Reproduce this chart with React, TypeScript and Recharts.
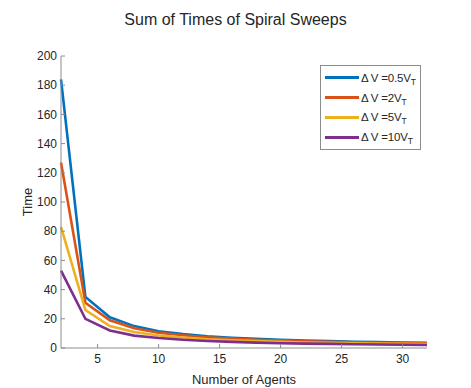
import { LineChart, Line, XAxis, YAxis, Label } from "recharts";

const agents = [2, 4, 6, 8, 10, 12, 14, 16, 18, 20, 22, 24, 26, 28, 30, 32];
const dv05 = [184, 35, 21, 15, 11.5, 9.5, 8, 7, 6.3, 5.6, 5.1, 4.7, 4.3, 4.0, 3.7, 3.5];
const dv2 = [127, 31, 19, 13.5, 10.5, 8.7, 7.3, 6.4, 5.7, 5.1, 4.6, 4.2, 3.9, 3.6, 3.4, 3.2];
const dv5 = [83, 26, 15, 11, 8.6, 7.1, 6.0, 5.3, 4.7, 4.2, 3.8, 3.5, 3.2, 3.0, 2.8, 2.7];
const dv10 = [53, 20, 12, 8.5, 6.8, 5.6, 4.8, 4.2, 3.7, 3.3, 3.0, 2.8, 2.6, 2.4, 2.2, 2.1];

const xTicks = [5, 10, 15, 20, 25, 30];
const yTicks = [0, 20, 40, 60, 80, 100, 120, 140, 160, 180, 200];

const series = [
    { key: "dv05", label: "0.5", color: "#0072BD", values: dv05 },
    { key: "dv2", label: "2", color: "#D95319", values: dv2 },
    { key: "dv5", label: "5", color: "#EDB120", values: dv5 },
    { key: "dv10", label: "10", color: "#7E2F8E", values: dv10 },
];

const data = agents.map((n, i) => {
    const row: any = { n };
    series.forEach((s) => (row[s.key] = s.values[i]));
    return row;
});

const FONT = "'Liberation Sans', Arial, sans-serif";
const tickStyle = { fontSize: 12, fill: "#262626", fontFamily: FONT };

// legend drawn as an overlay so it doesn't eat plot space
function LegendBox() {
    return (
        <div
            style={{
                position: "absolute",
                left: 320,
                top: 65,
                width: 101,
                height: 85,
                border: "1px solid #8c8c8c",
                background: "white",
                boxSizing: "border-box",
                padding: "2px 0 0 4px",
                fontFamily: FONT,
                fontSize: 11.5,
                color: "#262626",
                whiteSpace: "nowrap",
            }}
        >
            {series.map((s) => (
                <div key={s.key} style={{ display: "flex", alignItems: "center", height: 19.8 }}>
                    <span style={{ width: 34, height: 3, background: s.color, marginRight: 2, flexShrink: 0 }} />
                    <span style={{ letterSpacing: -0.2 }}>
                        Δ V ={s.label}V<sub style={{ fontSize: 8.5, lineHeight: 0 }}>T</sub>
                    </span>
                </div>
            ))}
        </div>
    );
}

export default function App() {
    return (
        <div style={{ position: "absolute", left: 0, top: 0, width: 471, height: 388, background: "white" }}>
            <div
                style={{
                    position: "absolute",
                    left: 0,
                    width: 471,
                    top: 11,
                    textAlign: "center",
                    fontFamily: FONT,
                    fontSize: 16,
                    color: "#262626",
                }}
            >
                Sum of Times of Spiral Sweeps
            </div>
            <LineChart width={471} height={388} data={data} margin={{ top: 56, right: 44, left: 0, bottom: 0 }}>
                <XAxis
                    dataKey="n"
                    type="number"
                    domain={[2, 32]}
                    ticks={xTicks}
                    tick={tickStyle}
                    tickSize={-4}
                    tickMargin={10}
                    height={40}
                    stroke="#8c8c8c"
                >
                    <Label
                        value="Number of Agents"
                        position="insideBottom"
                        offset={4}
                        style={{ fontSize: 13, fill: "#262626", fontFamily: FONT }}
                    />
                </XAxis>
                <YAxis
                    domain={[0, 200]}
                    ticks={yTicks}
                    tick={tickStyle}
                    tickSize={-4}
                    tickMargin={8}
                    width={61}
                    stroke="#8c8c8c"
                    interval={0}
                >
                    <Label
                        value="Time"
                        angle={-90}
                        position="insideLeft"
                        offset={27}
                        style={{ fontSize: 13, fill: "#262626", fontFamily: FONT, textAnchor: "middle" }}
                    />
                </YAxis>
                {series.map((s) => (
                    <Line
                        key={s.key}
                        dataKey={s.key}
                        stroke={s.color}
                        strokeWidth={2.6}
                        dot={false}
                        type="linear"
                        isAnimationActive={false}
                    />
                ))}
            </LineChart>
            <LegendBox />
        </div>
    );
}
